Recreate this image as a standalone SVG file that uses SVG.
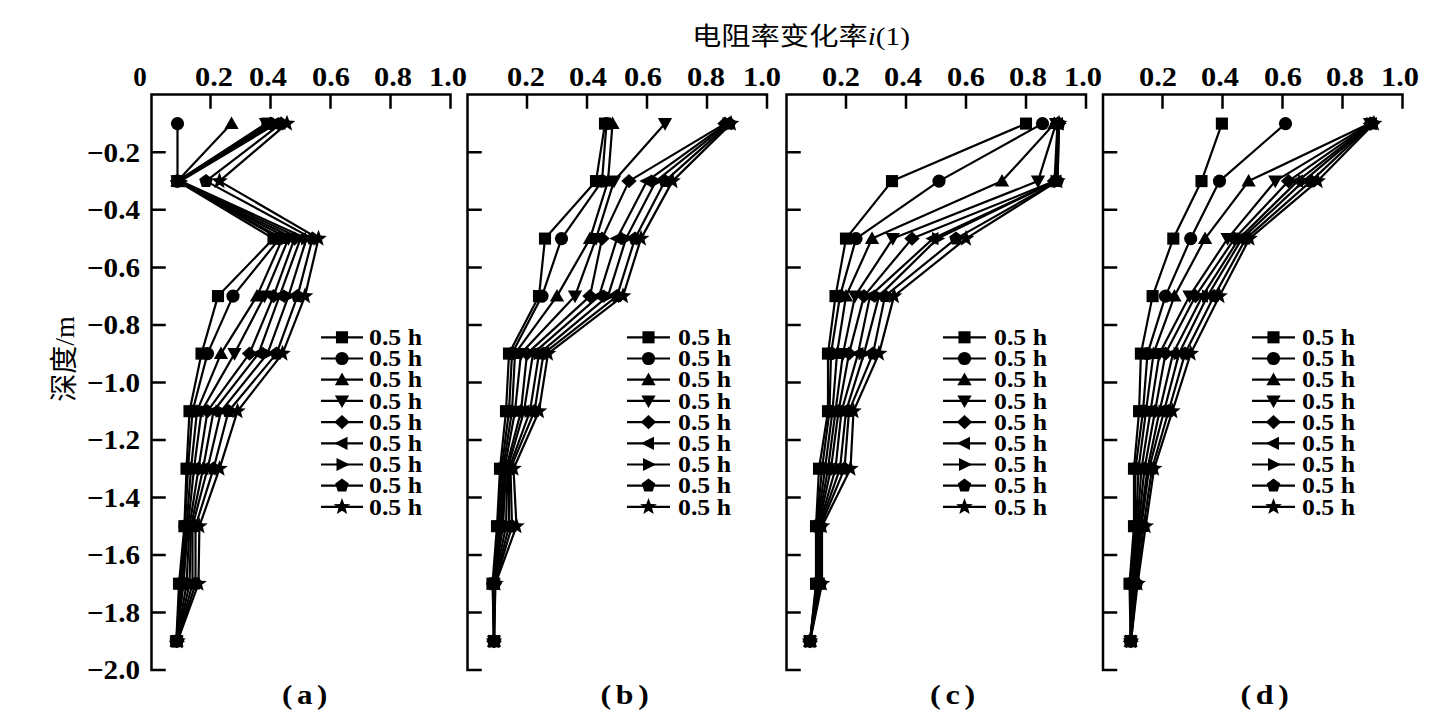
<svg xmlns="http://www.w3.org/2000/svg" width="1447" height="720" viewBox="0 0 1447 720">
<style>
.ax{fill:none;stroke:#000;stroke-width:2.5;stroke-linecap:square}
.ln{fill:none;stroke:#000;stroke-width:2.2;stroke-linejoin:round}
.tk{font-family:"Liberation Serif","Times New Roman",serif;font-weight:bold;font-size:27px;fill:#000}
.lg{font-family:"Liberation Serif","Times New Roman",serif;font-weight:bold;font-size:22.5px;fill:#000}
.cap{font-family:"Liberation Serif","Times New Roman",serif;font-weight:bold;font-size:27px;fill:#000}
.cjk{font-family:"Noto Sans CJK SC","Liberation Serif",sans-serif;fill:#000}
.lat{font-family:"Liberation Serif","Times New Roman",serif}
.s0{marker-start:url(#m0);marker-mid:url(#m0);marker-end:url(#m0)}
.s1{marker-start:url(#m1);marker-mid:url(#m1);marker-end:url(#m1)}
.s2{marker-start:url(#m2);marker-mid:url(#m2);marker-end:url(#m2)}
.s3{marker-start:url(#m3);marker-mid:url(#m3);marker-end:url(#m3)}
.s4{marker-start:url(#m4);marker-mid:url(#m4);marker-end:url(#m4)}
.s5{marker-start:url(#m5);marker-mid:url(#m5);marker-end:url(#m5)}
.s6{marker-start:url(#m6);marker-mid:url(#m6);marker-end:url(#m6)}
.s7{marker-start:url(#m7);marker-mid:url(#m7);marker-end:url(#m7)}
.s8{marker-start:url(#m8);marker-mid:url(#m8);marker-end:url(#m8)}
.l0{marker-mid:url(#m0)}.l1{marker-mid:url(#m1)}.l2{marker-mid:url(#m2)}.l3{marker-mid:url(#m3)}.l4{marker-mid:url(#m4)}.l5{marker-mid:url(#m5)}.l6{marker-mid:url(#m6)}.l7{marker-mid:url(#m7)}.l8{marker-mid:url(#m8)}
</style>
<defs>
<marker id="m0" viewBox="-10 -10 20 20" refX="0" refY="0" markerWidth="22" markerHeight="22" markerUnits="userSpaceOnUse" overflow="visible"><rect x="-5.5" y="-5.5" width="11" height="11" fill="#000"/></marker>
<marker id="m1" viewBox="-10 -10 20 20" refX="0" refY="0" markerWidth="22" markerHeight="22" markerUnits="userSpaceOnUse" overflow="visible"><circle r="6" fill="#000"/></marker>
<marker id="m2" viewBox="-10 -10 20 20" refX="0" refY="0" markerWidth="22" markerHeight="22" markerUnits="userSpaceOnUse" overflow="visible"><path d="M0,-6.5L6.5,5L-6.5,5Z" fill="#000"/></marker>
<marker id="m3" viewBox="-10 -10 20 20" refX="0" refY="0" markerWidth="22" markerHeight="22" markerUnits="userSpaceOnUse" overflow="visible"><path d="M0,6.5L6.5,-5L-6.5,-5Z" fill="#000"/></marker>
<marker id="m4" viewBox="-10 -10 20 20" refX="0" refY="0" markerWidth="22" markerHeight="22" markerUnits="userSpaceOnUse" overflow="visible"><path d="M0,-6.5L7,0L0,6.5L-7,0Z" fill="#000"/></marker>
<marker id="m5" viewBox="-10 -10 20 20" refX="0" refY="0" markerWidth="22" markerHeight="22" markerUnits="userSpaceOnUse" overflow="visible"><path d="M-7,0L5,-6L5,6Z" fill="#000"/></marker>
<marker id="m6" viewBox="-10 -10 20 20" refX="0" refY="0" markerWidth="22" markerHeight="22" markerUnits="userSpaceOnUse" overflow="visible"><path d="M7,0L-5,-6L-5,6Z" fill="#000"/></marker>
<marker id="m7" viewBox="-10 -10 20 20" refX="0" refY="0" markerWidth="22" markerHeight="22" markerUnits="userSpaceOnUse" overflow="visible"><path d="M0,-6.5L6.18,-2.01L3.82,5.26L-3.82,5.26L-6.18,-2.01Z" fill="#000"/></marker>
<marker id="m8" viewBox="-10 -10 20 20" refX="0" refY="0" markerWidth="22" markerHeight="22" markerUnits="userSpaceOnUse" overflow="visible"><path d="M0,-8L2,-2.75L7.61,-2.47L3.23,1.05L4.7,6.47L0,3.4L-4.7,6.47L-3.23,1.05L-7.61,-2.47L-2,-2.75Z" fill="#000"/></marker>
</defs>
<rect width="1447" height="720" fill="#fff"/>

<g id="titles">
<text class="cjk" x="692" y="45" font-size="25" textLength="218" lengthAdjust="spacingAndGlyphs">电阻率变化率<tspan class="lat" font-style="italic">i</tspan><tspan class="lat">(1)</tspan></text>
<text class="cjk" font-size="28" text-anchor="middle" transform="translate(74,359) rotate(-90)">深度<tspan class="lat">/m</tspan></text>
</g>

<g id="axes">
<path class="ax" d="M450.5,94.5H151.5V670M210.5,94.5v13M270.5,94.5v13M330.5,94.5v13M390.5,94.5v13M450.5,94.5v13M151.5,152.3h13M151.5,209.8h13M151.5,267.4h13M151.5,324.9h13M151.5,382.4h13M151.5,439.9h13M151.5,497.4h13M151.5,555h13M151.5,612.5h13M151.5,670h13"/>
<path class="ax" d="M767,94.5H467.5V670M527,94.5v13M587,94.5v13M647,94.5v13M707,94.5v13M767,94.5v13M467.5,152.3h13M467.5,209.8h13M467.5,267.4h13M467.5,324.9h13M467.5,382.4h13M467.5,439.9h13M467.5,497.4h13M467.5,555h13M467.5,612.5h13M467.5,670h13"/>
<path class="ax" d="M1086,94.5H786.5V670M846,94.5v13M906,94.5v13M966,94.5v13M1026,94.5v13M1086,94.5v13M786.5,152.3h13M786.5,209.8h13M786.5,267.4h13M786.5,324.9h13M786.5,382.4h13M786.5,439.9h13M786.5,497.4h13M786.5,555h13M786.5,612.5h13M786.5,670h13"/>
<path class="ax" d="M1402.5,94.5H1103V670M1162.5,94.5v13M1222.5,94.5v13M1282.5,94.5v13M1342.5,94.5v13M1402.5,94.5v13M1103,152.3h13M1103,209.8h13M1103,267.4h13M1103,324.9h13M1103,382.4h13M1103,439.9h13M1103,497.4h13M1103,555h13M1103,612.5h13M1103,670h13"/>
</g>

<g id="tick-labels" class="tk" text-anchor="middle">
<text x="140" y="86">0</text>
<text x="214" y="86" textLength="38" lengthAdjust="spacingAndGlyphs">0.2</text>
<text x="268" y="86" textLength="38" lengthAdjust="spacingAndGlyphs">0.4</text>
<text x="331" y="86" textLength="38" lengthAdjust="spacingAndGlyphs">0.6</text>
<text x="393" y="86" textLength="38" lengthAdjust="spacingAndGlyphs">0.8</text>
<text x="448" y="86" textLength="38" lengthAdjust="spacingAndGlyphs">1.0</text>
<text x="526" y="86" textLength="38" lengthAdjust="spacingAndGlyphs">0.2</text>
<text x="588" y="86" textLength="38" lengthAdjust="spacingAndGlyphs">0.4</text>
<text x="643" y="86" textLength="38" lengthAdjust="spacingAndGlyphs">0.6</text>
<text x="706" y="86" textLength="38" lengthAdjust="spacingAndGlyphs">0.8</text>
<text x="762" y="86" textLength="38" lengthAdjust="spacingAndGlyphs">1.0</text>
<text x="841" y="86" textLength="38" lengthAdjust="spacingAndGlyphs">0.2</text>
<text x="903" y="86" textLength="38" lengthAdjust="spacingAndGlyphs">0.4</text>
<text x="966" y="86" textLength="38" lengthAdjust="spacingAndGlyphs">0.6</text>
<text x="1028" y="86" textLength="38" lengthAdjust="spacingAndGlyphs">0.8</text>
<text x="1083" y="86" textLength="38" lengthAdjust="spacingAndGlyphs">1.0</text>
<text x="1158" y="86" textLength="38" lengthAdjust="spacingAndGlyphs">0.2</text>
<text x="1220" y="86" textLength="38" lengthAdjust="spacingAndGlyphs">0.4</text>
<text x="1283" y="86" textLength="38" lengthAdjust="spacingAndGlyphs">0.6</text>
<text x="1345" y="86" textLength="38" lengthAdjust="spacingAndGlyphs">0.8</text>
<text x="1400" y="86" textLength="38" lengthAdjust="spacingAndGlyphs">1.0</text>
</g>
<g id="depth-labels" class="tk" text-anchor="end">
<text x="140" y="161.5" textLength="53" lengthAdjust="spacingAndGlyphs">−0.2</text>
<text x="140" y="219" textLength="53" lengthAdjust="spacingAndGlyphs">−0.4</text>
<text x="140" y="276.6" textLength="53" lengthAdjust="spacingAndGlyphs">−0.6</text>
<text x="140" y="334.1" textLength="53" lengthAdjust="spacingAndGlyphs">−0.8</text>
<text x="140" y="391.6" textLength="53" lengthAdjust="spacingAndGlyphs">−1.0</text>
<text x="140" y="449.1" textLength="53" lengthAdjust="spacingAndGlyphs">−1.2</text>
<text x="140" y="506.6" textLength="53" lengthAdjust="spacingAndGlyphs">−1.4</text>
<text x="140" y="564.2" textLength="53" lengthAdjust="spacingAndGlyphs">−1.6</text>
<text x="140" y="621.7" textLength="53" lengthAdjust="spacingAndGlyphs">−1.8</text>
<text x="140" y="679.2" textLength="53" lengthAdjust="spacingAndGlyphs">−2.0</text>
</g>

<g id="panel-a">
<g id="connectors-a">
<polyline class="ln s0" points="267.5,123.6 177.5,181.1 273.5,238.6 218,296.1 201.5,353.6 189.5,411.2 186.5,468.7 184.4,526.2 179,583.7 176.3,641.2"/>
<polyline class="ln s1" points="177.5,123.6 177.5,181.1 279.5,238.6 233,296.1 207.5,353.6 192.5,411.2 188,468.7 185,526.2 180.5,583.7 176.3,641.2"/>
<polyline class="ln s2" points="231.5,123.6 177.5,181.1 282.5,238.6 257,296.1 221,353.6 197,411.2 191,468.7 186.5,526.2 182,583.7 176.6,641.2"/>
<polyline class="ln s3" points="266,123.6 177.5,181.1 288.5,238.6 264.5,296.1 234.5,353.6 201.5,411.2 194,468.7 188,526.2 183.5,583.7 176.6,641.2"/>
<polyline class="ln s4" points="270.5,123.6 177.5,181.1 294.5,238.6 273.5,296.1 249.5,353.6 207.5,411.2 198.5,468.7 189.5,526.2 186.5,583.7 177,641.2"/>
<polyline class="ln s5" points="273.5,123.6 179,181.1 300.5,238.6 279.5,296.1 258.5,353.6 213.5,411.2 203,468.7 191,526.2 189.5,583.7 177,641.2"/>
<polyline class="ln s6" points="276.5,123.6 180.5,181.1 306.5,238.6 288.5,296.1 267.5,353.6 221,411.2 207.5,468.7 192.5,526.2 192.5,583.7 177.2,641.2"/>
<polyline class="ln s7" points="281,123.6 206,181.1 312.5,238.6 297.5,296.1 276.5,353.6 228.5,411.2 213.5,468.7 195.5,526.2 195.5,583.7 177.5,641.2"/>
<polyline class="ln s8" points="287,123.6 219.5,181.1 318.5,238.6 305,296.1 282.5,353.6 237.5,411.2 219.5,468.7 199.4,526.2 198.5,583.7 177.5,641.2"/>
</g>
<g id="legend-a">
<polyline class="ln l0" points="321,337.3 342,337.3 363,337.3"/>
<polyline class="ln l1" points="321,358.5 342,358.5 363,358.5"/>
<polyline class="ln l2" points="321,379.7 342,379.7 363,379.7"/>
<polyline class="ln l3" points="321,400.9 342,400.9 363,400.9"/>
<polyline class="ln l4" points="321,422.1 342,422.1 363,422.1"/>
<polyline class="ln l5" points="321,443.3 342,443.3 363,443.3"/>
<polyline class="ln l6" points="321,464.5 342,464.5 363,464.5"/>
<polyline class="ln l7" points="321,485.7 342,485.7 363,485.7"/>
<polyline class="ln l8" points="321,506.9 342,506.9 363,506.9"/>
<g class="lg">
<text x="369" y="345" textLength="53" lengthAdjust="spacingAndGlyphs">0.5 h</text>
<text x="369" y="366.2" textLength="53" lengthAdjust="spacingAndGlyphs">0.5 h</text>
<text x="369" y="387.4" textLength="53" lengthAdjust="spacingAndGlyphs">0.5 h</text>
<text x="369" y="408.6" textLength="53" lengthAdjust="spacingAndGlyphs">0.5 h</text>
<text x="369" y="429.8" textLength="53" lengthAdjust="spacingAndGlyphs">0.5 h</text>
<text x="369" y="451" textLength="53" lengthAdjust="spacingAndGlyphs">0.5 h</text>
<text x="369" y="472.2" textLength="53" lengthAdjust="spacingAndGlyphs">0.5 h</text>
<text x="369" y="493.4" textLength="53" lengthAdjust="spacingAndGlyphs">0.5 h</text>
<text x="369" y="514.6" textLength="53" lengthAdjust="spacingAndGlyphs">0.5 h</text>
</g>
</g>
<text class="cap" x="307" y="704" text-anchor="middle" letter-spacing="4" textLength="50" lengthAdjust="spacingAndGlyphs">(a)</text>
</g>

<g id="panel-b">
<g id="connectors-b">
<polyline class="ln s0" points="605,123.6 596,181.1 545,238.6 539,296.1 509,353.6 506,411.2 500,468.7 497,526.2 492.5,583.7 494,641.2"/>
<polyline class="ln s1" points="606.5,123.6 602,181.1 561.5,238.6 542,296.1 512,353.6 509,411.2 501.5,468.7 498.5,526.2 493,583.7 494,641.2"/>
<polyline class="ln s2" points="612.5,123.6 608,181.1 590,238.6 557,296.1 515,353.6 512,411.2 503,468.7 500,526.2 493.4,583.7 494,641.2"/>
<polyline class="ln s3" points="665,123.6 614,181.1 596,238.6 575,296.1 521,353.6 515,411.2 504.5,468.7 501.5,526.2 493.7,583.7 494,641.2"/>
<polyline class="ln s4" points="725,123.6 629,181.1 602,238.6 590,296.1 527,353.6 521,411.2 506,468.7 503,526.2 494,583.7 494,641.2"/>
<polyline class="ln s5" points="726.5,123.6 647,181.1 617,238.6 599,296.1 533,353.6 524,411.2 507.5,468.7 506,526.2 494,583.7 494,641.2"/>
<polyline class="ln s6" points="728,123.6 656,181.1 626,238.6 608,296.1 539,353.6 530,411.2 509,468.7 509,526.2 494.6,583.7 494,641.2"/>
<polyline class="ln s7" points="729.5,123.6 665,181.1 635,238.6 617,296.1 543.5,353.6 534.5,411.2 510.5,468.7 512,526.2 495,583.7 494,641.2"/>
<polyline class="ln s8" points="731,123.6 672.5,181.1 641,238.6 623,296.1 548,353.6 539,411.2 513.5,468.7 516.5,526.2 495.5,583.7 494,641.2"/>
</g>
<g id="legend-b">
<polyline class="ln l0" points="627,337.3 648.5,337.3 670,337.3"/>
<polyline class="ln l1" points="627,358.5 648.5,358.5 670,358.5"/>
<polyline class="ln l2" points="627,379.7 648.5,379.7 670,379.7"/>
<polyline class="ln l3" points="627,400.9 648.5,400.9 670,400.9"/>
<polyline class="ln l4" points="627,422.1 648.5,422.1 670,422.1"/>
<polyline class="ln l5" points="627,443.3 648.5,443.3 670,443.3"/>
<polyline class="ln l6" points="627,464.5 648.5,464.5 670,464.5"/>
<polyline class="ln l7" points="627,485.7 648.5,485.7 670,485.7"/>
<polyline class="ln l8" points="627,506.9 648.5,506.9 670,506.9"/>
<g class="lg">
<text x="678" y="345" textLength="53" lengthAdjust="spacingAndGlyphs">0.5 h</text>
<text x="678" y="366.2" textLength="53" lengthAdjust="spacingAndGlyphs">0.5 h</text>
<text x="678" y="387.4" textLength="53" lengthAdjust="spacingAndGlyphs">0.5 h</text>
<text x="678" y="408.6" textLength="53" lengthAdjust="spacingAndGlyphs">0.5 h</text>
<text x="678" y="429.8" textLength="53" lengthAdjust="spacingAndGlyphs">0.5 h</text>
<text x="678" y="451" textLength="53" lengthAdjust="spacingAndGlyphs">0.5 h</text>
<text x="678" y="472.2" textLength="53" lengthAdjust="spacingAndGlyphs">0.5 h</text>
<text x="678" y="493.4" textLength="53" lengthAdjust="spacingAndGlyphs">0.5 h</text>
<text x="678" y="514.6" textLength="53" lengthAdjust="spacingAndGlyphs">0.5 h</text>
</g>
</g>
<text class="cap" x="627" y="704" text-anchor="middle" letter-spacing="4" textLength="53" lengthAdjust="spacingAndGlyphs">(b)</text>
</g>

<g id="panel-c">
<g id="connectors-c">
<polyline class="ln s0" points="1026,123.6 892,181.1 846,238.6 835.5,296.1 828,353.6 828,411.2 819,468.7 816,526.2 816,583.7 810,641.2"/>
<polyline class="ln s1" points="1042.5,123.6 939,181.1 856,238.6 840,296.1 831,353.6 829.5,411.2 822,468.7 816.6,526.2 816.6,583.7 810,641.2"/>
<polyline class="ln s2" points="1054.5,123.6 1002,181.1 872,238.6 846,296.1 837,353.6 832.5,411.2 825,468.7 817.2,526.2 817.2,583.7 810,641.2"/>
<polyline class="ln s3" points="1056,123.6 1038,181.1 892.8,238.6 855,296.1 843,353.6 835.5,411.2 828,468.7 817.8,526.2 817.8,583.7 810,641.2"/>
<polyline class="ln s4" points="1057.5,123.6 1054.5,181.1 912,238.6 864,296.1 849,353.6 838.5,411.2 831,468.7 818.4,526.2 818.4,583.7 810,641.2"/>
<polyline class="ln s5" points="1057.5,123.6 1056,181.1 933,238.6 870,296.1 858,353.6 841.5,411.2 835.5,468.7 819,526.2 819,583.7 810,641.2"/>
<polyline class="ln s6" points="1059,123.6 1056,181.1 937.5,238.6 879,296.1 864,353.6 846,411.2 840,468.7 819.6,526.2 819.6,583.7 810,641.2"/>
<polyline class="ln s7" points="1059,123.6 1057.5,181.1 956,238.6 885,296.1 873,353.6 849,411.2 844.5,468.7 820.5,526.2 820.5,583.7 810,641.2"/>
<polyline class="ln s8" points="1059,123.6 1057.5,181.1 966,238.6 894,296.1 879,353.6 853.5,411.2 850.5,468.7 822,526.2 822,583.7 810,641.2"/>
</g>
<g id="legend-c">
<polyline class="ln l0" points="943,337.3 964.5,337.3 986,337.3"/>
<polyline class="ln l1" points="943,358.5 964.5,358.5 986,358.5"/>
<polyline class="ln l2" points="943,379.7 964.5,379.7 986,379.7"/>
<polyline class="ln l3" points="943,400.9 964.5,400.9 986,400.9"/>
<polyline class="ln l4" points="943,422.1 964.5,422.1 986,422.1"/>
<polyline class="ln l5" points="943,443.3 964.5,443.3 986,443.3"/>
<polyline class="ln l6" points="943,464.5 964.5,464.5 986,464.5"/>
<polyline class="ln l7" points="943,485.7 964.5,485.7 986,485.7"/>
<polyline class="ln l8" points="943,506.9 964.5,506.9 986,506.9"/>
<g class="lg">
<text x="994" y="345" textLength="53" lengthAdjust="spacingAndGlyphs">0.5 h</text>
<text x="994" y="366.2" textLength="53" lengthAdjust="spacingAndGlyphs">0.5 h</text>
<text x="994" y="387.4" textLength="53" lengthAdjust="spacingAndGlyphs">0.5 h</text>
<text x="994" y="408.6" textLength="53" lengthAdjust="spacingAndGlyphs">0.5 h</text>
<text x="994" y="429.8" textLength="53" lengthAdjust="spacingAndGlyphs">0.5 h</text>
<text x="994" y="451" textLength="53" lengthAdjust="spacingAndGlyphs">0.5 h</text>
<text x="994" y="472.2" textLength="53" lengthAdjust="spacingAndGlyphs">0.5 h</text>
<text x="994" y="493.4" textLength="53" lengthAdjust="spacingAndGlyphs">0.5 h</text>
<text x="994" y="514.6" textLength="53" lengthAdjust="spacingAndGlyphs">0.5 h</text>
</g>
</g>
<text class="cap" x="955" y="704" text-anchor="middle" letter-spacing="4" textLength="50" lengthAdjust="spacingAndGlyphs">(c)</text>
</g>

<g id="panel-d">
<g id="connectors-d">
<polyline class="ln s0" points="1221.9,123.6 1201.5,181.1 1173.3,238.6 1152.6,296.1 1140.9,353.6 1139.1,411.2 1134,468.7 1134,526.2 1129.5,583.7 1130.7,641.2"/>
<polyline class="ln s1" points="1285.5,123.6 1219.5,181.1 1190.7,238.6 1165.5,296.1 1147.5,353.6 1143,411.2 1135.5,468.7 1134.9,526.2 1130.4,583.7 1130.7,641.2"/>
<polyline class="ln s2" points="1369.5,123.6 1248.6,181.1 1205.1,238.6 1174.5,296.1 1153.5,353.6 1146,411.2 1138.5,468.7 1136.1,526.2 1131.3,583.7 1130.7,641.2"/>
<polyline class="ln s3" points="1370.1,123.6 1275.3,181.1 1227.6,238.6 1189.5,296.1 1159.5,353.6 1150.5,411.2 1141.5,468.7 1137.3,526.2 1132.2,583.7 1130.7,641.2"/>
<polyline class="ln s4" points="1370.7,123.6 1288.5,181.1 1234.5,238.6 1195.5,296.1 1165.5,353.6 1155,411.2 1144.5,468.7 1138.5,526.2 1133.1,583.7 1130.7,641.2"/>
<polyline class="ln s5" points="1371.3,123.6 1297.5,181.1 1239,238.6 1202.4,296.1 1173,353.6 1159.5,411.2 1147.5,468.7 1140,526.2 1134.3,583.7 1130.7,641.2"/>
<polyline class="ln s6" points="1371.9,123.6 1303.5,181.1 1242,238.6 1207.5,296.1 1179,353.6 1164,411.2 1149,468.7 1141.5,526.2 1135.5,583.7 1131,641.2"/>
<polyline class="ln s7" points="1372.5,123.6 1311,181.1 1245.9,238.6 1214.1,296.1 1185,353.6 1168.5,411.2 1152,468.7 1143.6,526.2 1136.7,583.7 1131,641.2"/>
<polyline class="ln s8" points="1374,123.6 1317.6,181.1 1249.5,238.6 1219.5,296.1 1190.7,353.6 1172.4,411.2 1154.1,468.7 1145.7,526.2 1137.6,583.7 1131,641.2"/>
</g>
<g id="legend-d">
<polyline class="ln l0" points="1252,337.3 1273.5,337.3 1295,337.3"/>
<polyline class="ln l1" points="1252,358.5 1273.5,358.5 1295,358.5"/>
<polyline class="ln l2" points="1252,379.7 1273.5,379.7 1295,379.7"/>
<polyline class="ln l3" points="1252,400.9 1273.5,400.9 1295,400.9"/>
<polyline class="ln l4" points="1252,422.1 1273.5,422.1 1295,422.1"/>
<polyline class="ln l5" points="1252,443.3 1273.5,443.3 1295,443.3"/>
<polyline class="ln l6" points="1252,464.5 1273.5,464.5 1295,464.5"/>
<polyline class="ln l7" points="1252,485.7 1273.5,485.7 1295,485.7"/>
<polyline class="ln l8" points="1252,506.9 1273.5,506.9 1295,506.9"/>
<g class="lg">
<text x="1302" y="345" textLength="53" lengthAdjust="spacingAndGlyphs">0.5 h</text>
<text x="1302" y="366.2" textLength="53" lengthAdjust="spacingAndGlyphs">0.5 h</text>
<text x="1302" y="387.4" textLength="53" lengthAdjust="spacingAndGlyphs">0.5 h</text>
<text x="1302" y="408.6" textLength="53" lengthAdjust="spacingAndGlyphs">0.5 h</text>
<text x="1302" y="429.8" textLength="53" lengthAdjust="spacingAndGlyphs">0.5 h</text>
<text x="1302" y="451" textLength="53" lengthAdjust="spacingAndGlyphs">0.5 h</text>
<text x="1302" y="472.2" textLength="53" lengthAdjust="spacingAndGlyphs">0.5 h</text>
<text x="1302" y="493.4" textLength="53" lengthAdjust="spacingAndGlyphs">0.5 h</text>
<text x="1302" y="514.6" textLength="53" lengthAdjust="spacingAndGlyphs">0.5 h</text>
</g>
</g>
<text class="cap" x="1267" y="704" text-anchor="middle" letter-spacing="4" textLength="53" lengthAdjust="spacingAndGlyphs">(d)</text>
</g>
</svg>
